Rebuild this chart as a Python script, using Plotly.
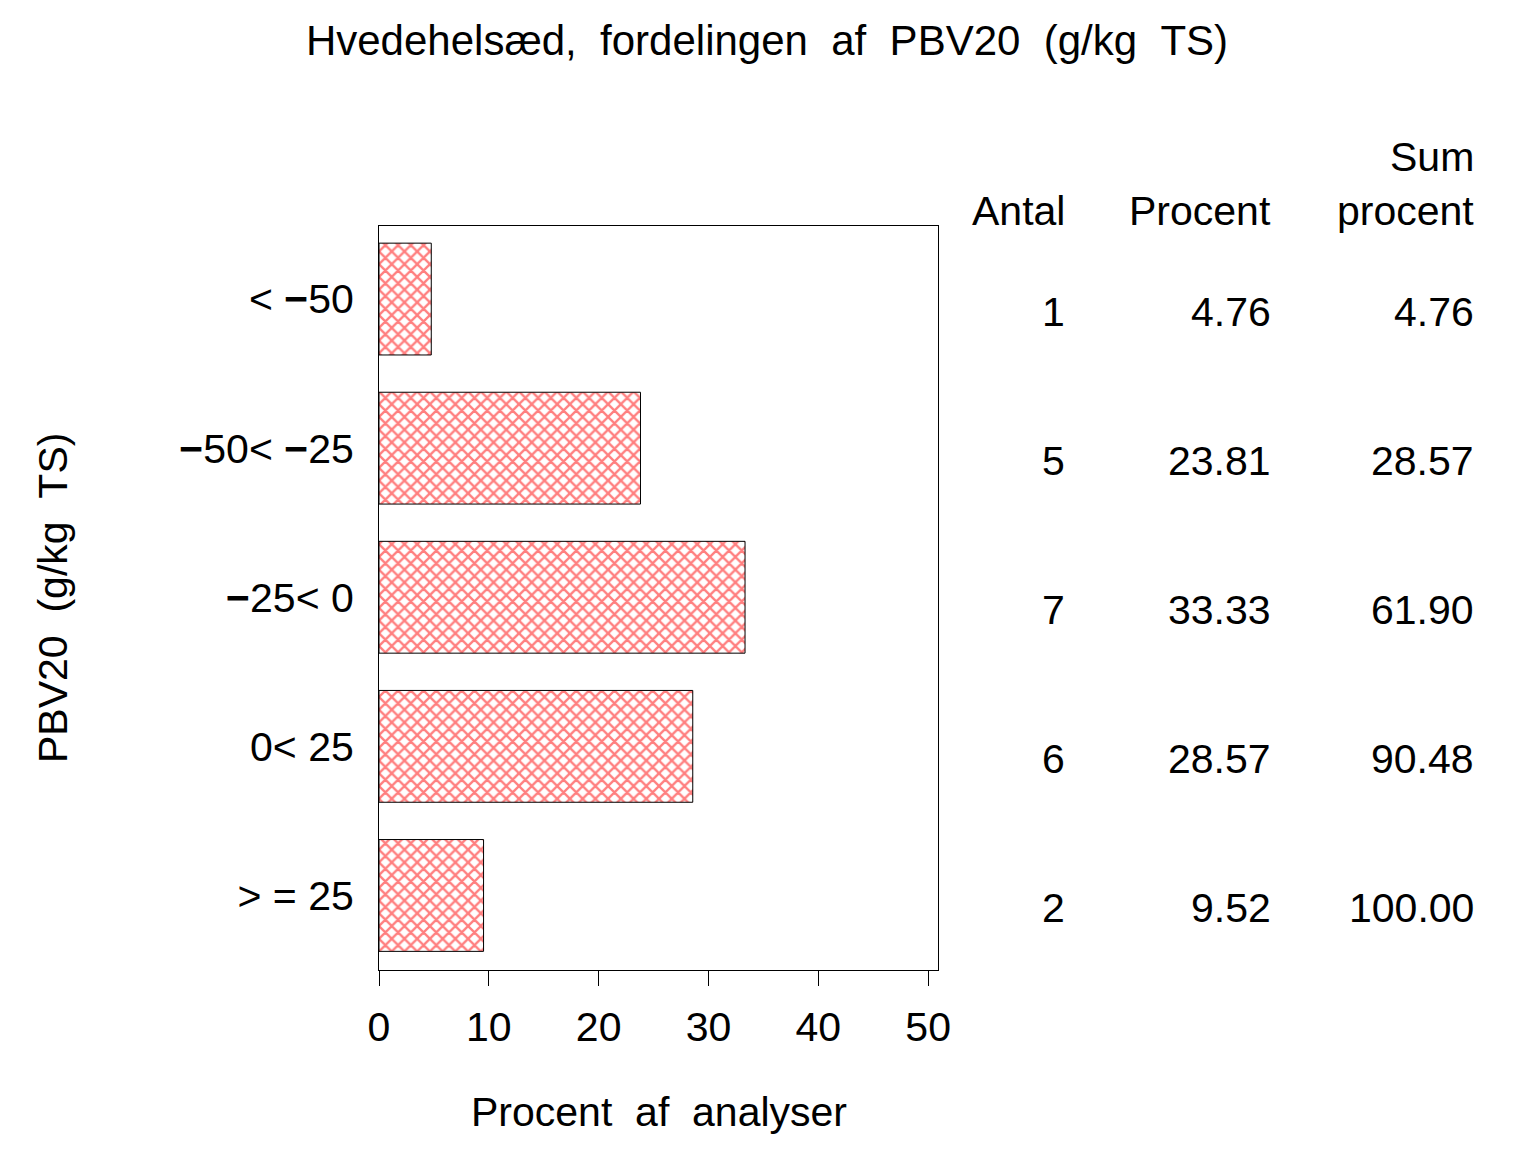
import plotly.graph_objects as go

# data
M = "<b>\u2212</b>"
categories = ["<\u00a0" + M + "50", M + "50<\u00a0" + M + "25", M + "25<\u00a00", "0<\u00a025", ">\u00a0=\u00a025"]
antal = [1, 5, 7, 6, 2]
procent = [4.76, 23.81, 33.33, 28.57, 9.52]
sum_procent = [4.76, 28.57, 61.90, 90.48, 100.00]
x_ticks = [0, 10, 20, 30, 40, 50]

OFF = 8  # page body margin
W, H = 1536 - OFF, 1152 - OFF
L, R, T, B = 379 - OFF, 938 - OFF, 226 - OFF, 970 - OFF  # plot frame in pixels
FONT = "Liberation Sans, Arial, sans-serif"
SP = "\u00a0\u00a0"

def px_x(px):
    return (px - OFF - L) / (R - L)

def px_y(py):
    return (B - (py - OFF)) / (B - T)

pos = list(range(len(categories)))

fig = go.Figure()
fig.add_trace(go.Bar(
    x=procent, y=pos, orientation="h", width=0.75,
    marker=dict(color="white", line=dict(color="black", width=1),
                pattern=dict(shape="x", fgcolor="#ff0000", bgcolor="white",
                             size=9, solidity=0.45)),
    hoverinfo="x+y", showlegend=False,
))

ann = []
# table headers and values
cols = [(1067, "Antal", antal, "{:d}"), (1273, "Procent", procent, "{:.2f}"),
        (1476, "procent", sum_procent, "{:.2f}")]
for xr, head, vals, fmt in cols:
    ann.append(dict(text=head, xref="paper", yref="paper", x=px_x(xr), y=px_y(211),
                    xanchor="right", yanchor="middle", showarrow=False))
    for p, v in zip(pos, vals):
        ann.append(dict(text=fmt.format(v), xref="paper", yref="y", x=px_x(xr), y=p,
                        yshift=-13, xanchor="right", yanchor="middle", showarrow=False))
ann.append(dict(text="Sum", xref="paper", yref="paper", x=px_x(1476), y=px_y(157),
                xanchor="right", yanchor="middle", showarrow=False))
# axis titles
ann.append(dict(text="Procent" + SP + "af" + SP + "analyser", xref="paper", yref="paper",
                x=0.5, y=px_y(1112), xanchor="center", yanchor="middle", showarrow=False))
ann.append(dict(text="PBV20" + SP + "(g/kg" + SP + "TS)", xref="paper", yref="paper",
                x=px_x(53), y=px_y(598), textangle=-90,
                xanchor="center", yanchor="middle", showarrow=False))

fig.update_layout(
    width=W, height=H,
    margin=dict(l=L, r=W - R, t=T, b=H - B),
    paper_bgcolor="white", plot_bgcolor="white",
    font=dict(family=FONT, size=41, color="black"),
    title=dict(text="Hvedehelsæd," + SP + "fordelingen" + SP + "af" + SP + "PBV20" + SP + "(g/kg" + SP + "TS)",
               x=px_x(767), xanchor="center", y=1 - (40 - OFF) / H, yanchor="middle",
               xref="paper", yref="container", font=dict(size=42)),
    annotations=ann,
    xaxis=dict(range=[0, 50.9], tickvals=x_ticks, ticks="outside", ticklen=15,
               tickcolor="black", tickwidth=1, showgrid=False, zeroline=False,
               showline=True, linecolor="black", linewidth=1, mirror=True,
               ticklabelstandoff=6, tickfont=dict(size=41)),
    yaxis=dict(range=[4.5, -0.49], tickvals=pos, ticktext=categories, ticks="",
               showgrid=False, zeroline=False, showline=True, linecolor="black",
               linewidth=1, mirror=True, ticklabelstandoff=16, tickfont=dict(size=41)),
)

fig.write_html("out.html")
